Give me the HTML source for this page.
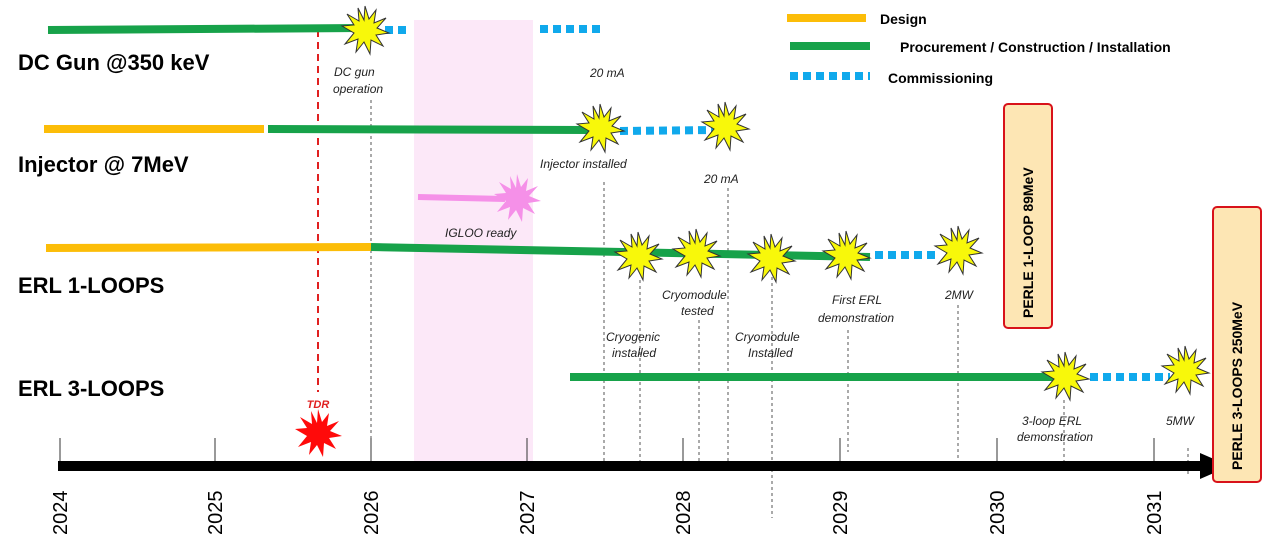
<!DOCTYPE html>
<html><head><meta charset="utf-8"><style>
html,body{margin:0;padding:0;background:#fff}
svg{display:block}
.t{font-family:"Liberation Sans",sans-serif}
.it{font-family:"Liberation Sans",sans-serif;font-style:italic;font-size:12px;fill:#222}
.h{font-family:"Liberation Sans",sans-serif;font-weight:bold;font-size:22px;fill:#000}
</style></head><body>
<svg width="1277" height="554" viewBox="0 0 1277 554" xmlns="http://www.w3.org/2000/svg">
<defs>
<polygon id="st" points="0,-24 4,-11 11,-20 9,-7 21,-12 12,-2 24,3 11,5 18,16 6,10 5,24 -1,12 -9,22 -7,9 -20,14 -11,3 -23,-4 -11,-5 -18,-16 -6,-9 -7,-22 -1,-10"/>
</defs>
<rect x="414" y="20" width="119" height="443" fill="#fce8f8"/>
<!-- gray dashed verticals -->
<g stroke="#555" stroke-width="1" stroke-dasharray="3,3">
<line x1="371" y1="100" x2="371" y2="460"/>
<line x1="604" y1="182" x2="604" y2="462"/>
<line x1="640" y1="280" x2="640" y2="462"/>
<line x1="699" y1="320" x2="699" y2="462"/>
<line x1="728" y1="188" x2="728" y2="462"/>
<line x1="772" y1="265" x2="772" y2="518"/>
<line x1="848" y1="330" x2="848" y2="452"/>
<line x1="958" y1="305" x2="958" y2="462"/>
<line x1="1064" y1="400" x2="1064" y2="462"/>
<line x1="1188" y1="474" x2="1188" y2="460"/>
<line x1="1188" y1="448" x2="1188" y2="462"/>
</g>
<line x1="318" y1="30" x2="318" y2="392" stroke="#e02020" stroke-width="2" stroke-dasharray="7,5"/>
<!-- year ticks -->
<g stroke="#333" stroke-width="1">
<line x1="60" y1="438" x2="60" y2="466"/><line x1="215" y1="438" x2="215" y2="466"/>
<line x1="371" y1="438" x2="371" y2="466"/><line x1="527" y1="438" x2="527" y2="466"/>
<line x1="683" y1="438" x2="683" y2="466"/><line x1="840" y1="438" x2="840" y2="466"/>
<line x1="997" y1="438" x2="997" y2="466"/><line x1="1154" y1="438" x2="1154" y2="466"/>
</g>
<!-- axis -->
<line x1="58" y1="466" x2="1205" y2="466" stroke="#000" stroke-width="10"/>
<polygon points="1200,453 1230,466 1200,479" fill="#000"/>
<!-- bars -->
<g stroke-width="8" fill="none">
<line x1="48" y1="30" x2="362" y2="28" stroke="#17a24a"/>
<line x1="385" y1="30" x2="410" y2="30" stroke="#10a9ec" stroke-dasharray="8,5"/>
<line x1="540" y1="29" x2="605" y2="29" stroke="#10a9ec" stroke-dasharray="8,5"/>
<line x1="44" y1="129" x2="264" y2="129" stroke="#fcbd08"/>
<line x1="268" y1="129" x2="590" y2="130" stroke="#17a24a"/>
<line x1="620" y1="131" x2="715" y2="130" stroke="#10a9ec" stroke-dasharray="8,5"/>
<line x1="46" y1="248" x2="371" y2="247" stroke="#fcbd08"/>
<line x1="371" y1="247" x2="870" y2="257" stroke="#17a24a"/>
<line x1="875" y1="255" x2="940" y2="255" stroke="#10a9ec" stroke-dasharray="8,5"/>
<line x1="570" y1="377" x2="1060" y2="377" stroke="#17a24a"/>
<line x1="1090" y1="377" x2="1170" y2="377" stroke="#10a9ec" stroke-dasharray="8,5"/>
<line x1="418" y1="197" x2="505" y2="199" stroke="#f590e8" stroke-width="6"/>
</g>
<!-- stars -->
<g fill="#f8f80a" stroke="#333" stroke-width="1">
<use href="#st" x="365" y="30"/>
<use href="#st" x="600" y="128"/>
<use href="#st" x="725" y="126"/>
<use href="#st" x="638" y="256"/>
<use href="#st" x="696" y="253"/>
<use href="#st" x="771" y="258"/>
<use href="#st" x="846" y="255"/>
<use href="#st" x="958" y="250"/>
<use href="#st" x="1065" y="376"/>
<use href="#st" x="1185" y="370"/>
</g>
<use href="#st" x="517" y="198" fill="#f590e8"/>
<use href="#st" x="318" y="433" fill="#ff0a0a"/>
<!-- row titles -->
<text class="h" x="18" y="70">DC Gun @350 keV</text>
<text class="h" x="18" y="172">Injector @ 7MeV</text>
<text class="h" x="18" y="293">ERL 1-LOOPS</text>
<text class="h" x="18" y="396">ERL 3-LOOPS</text>
<!-- italic labels -->
<text class="it" x="334" y="76">DC gun</text>
<text class="it" x="333" y="93">operation</text>
<text class="it" x="590" y="77">20 mA</text>
<text class="it" x="540" y="168">Injector installed</text>
<text class="it" x="704" y="183">20 mA</text>
<text class="it" x="445" y="237">IGLOO ready</text>
<text class="it" x="662" y="299">Cryomodule</text>
<text class="it" x="681" y="315">tested</text>
<text class="it" x="606" y="341">Cryogenic</text>
<text class="it" x="612" y="357">installed</text>
<text class="it" x="735" y="341">Cryomodule</text>
<text class="it" x="748" y="357">Installed</text>
<text class="it" x="832" y="304">First ERL</text>
<text class="it" x="818" y="322">demonstration</text>
<text class="it" x="945" y="299">2MW</text>
<text class="it" x="1022" y="425">3-loop ERL</text>
<text class="it" x="1017" y="441">demonstration</text>
<text class="it" x="1166" y="425">5MW</text>
<text class="t" x="318" y="408" font-size="11" font-weight="bold" font-style="italic" fill="#e02020" text-anchor="middle">TDR</text>
<!-- legend -->
<line x1="787" y1="18" x2="866" y2="18" stroke="#fcbd08" stroke-width="8"/>
<line x1="790" y1="46" x2="870" y2="46" stroke="#17a24a" stroke-width="8"/>
<line x1="790" y1="76" x2="870" y2="76" stroke="#10a9ec" stroke-width="8" stroke-dasharray="8,5"/>
<g class="t" font-size="14" font-weight="bold" fill="#000">
<text x="880" y="24">Design</text>
<text x="900" y="52">Procurement / Construction / Installation</text>
<text x="888" y="83">Commissioning</text>
</g>
<!-- PERLE boxes -->
<rect x="1004" y="104" width="48" height="224" rx="4" fill="#fde6b4" stroke="#d8121a" stroke-width="2"/>
<text class="t" font-size="14" font-weight="bold" transform="translate(1033,318) rotate(-90)">PERLE 1-LOOP  89MeV</text>
<rect x="1213" y="207" width="48" height="275" rx="4" fill="#fde6b4" stroke="#d8121a" stroke-width="2"/>
<text class="t" font-size="14" font-weight="bold" transform="translate(1242,470) rotate(-90)">PERLE 3-LOOPS  250MeV</text>
<!-- years -->
<g class="t" font-size="20" fill="#000">
<text transform="translate(67,535) rotate(-90)">2024</text>
<text transform="translate(222,535) rotate(-90)">2025</text>
<text transform="translate(378,535) rotate(-90)">2026</text>
<text transform="translate(534,535) rotate(-90)">2027</text>
<text transform="translate(690,535) rotate(-90)">2028</text>
<text transform="translate(847,535) rotate(-90)">2029</text>
<text transform="translate(1004,535) rotate(-90)">2030</text>
<text transform="translate(1161,535) rotate(-90)">2031</text>
</g>
</svg>
</body></html>
